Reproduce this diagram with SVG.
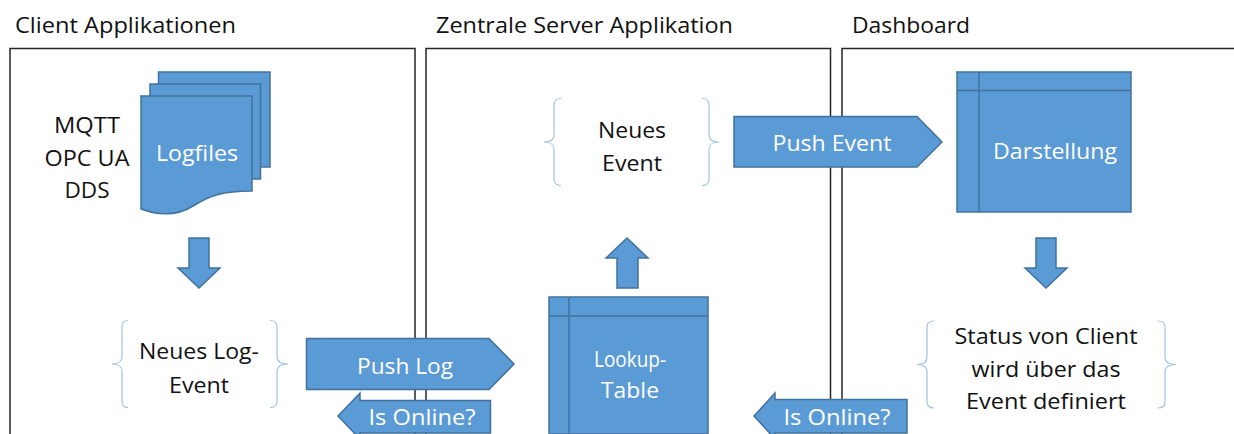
<svg xmlns="http://www.w3.org/2000/svg" width="1234" height="434" viewBox="0 0 1234 434">
<defs><style>
.panel{fill:none;stroke:#262626;stroke-width:1.5}
.s{fill:#5b9bd5;stroke:#41719c;stroke-width:1.5}
.l{fill:none;stroke:#41719c;stroke-width:1.5}
.b{fill:none;stroke:#9dc3e6;stroke-width:1.2}
text{font-family:"Open Sans","Liberation Sans",sans-serif;font-size:22.5px;fill:#111;text-anchor:middle;lengthAdjust:spacingAndGlyphs}
.w{fill:#fff}
.h{text-anchor:start}
</style></defs>
<rect width="1234" height="434" fill="#fff"/>
<g id="panels">
<path class="panel" d="M10 434V48.500H415V434"/>
<path class="panel" d="M426 434V48.500H830.500V434"/>
<path class="panel" d="M842 434V48.500H1234"/>
</g>
<g id="headers">
<text class="h" x="15" y="33" textLength="221" lengthAdjust="spacingAndGlyphs">Client Applikationen</text>
<text class="h" x="436" y="33" textLength="297" lengthAdjust="spacingAndGlyphs">Zentrale Server Applikation</text>
<text class="h" x="852" y="33" textLength="118" lengthAdjust="spacingAndGlyphs">Dashboard</text>
</g>
<g id="protocols">
<text x="87" y="133" textLength="66" lengthAdjust="spacingAndGlyphs">MQTT</text>
<text x="87" y="166" textLength="85" lengthAdjust="spacingAndGlyphs">OPC UA</text>
<text x="87" y="198" textLength="45" lengthAdjust="spacingAndGlyphs">DDS</text>
</g>
<g id="logfiles">
<rect class="s" x="158.500" y="72" width="111.500" height="95"/>
<rect class="s" x="150" y="84" width="110.500" height="95"/>
<path class="s" d="M141 96H252V191C222 191 209 196 193 206C177 216 160 216 141 209Z"/>
<text class="w" x="197" y="161" textLength="82" lengthAdjust="spacingAndGlyphs">Logfiles</text>
</g>
<g id="neues-log-event">
<path class="b" d="M128 320.500C124 320.500 122 323 122 327V356C122 361 120 364 112 364C120 364 122 367 122 372V401C122 405 124 407.500 128 407.500"/>
<path class="b" d="M270 320.500C274 320.500 277 323 277 327V356C277 361 280 364 288 364C280 364 277 367 277 372V401C277 405 274 407.500 270 407.500"/>
<text x="199" y="359" textLength="120" lengthAdjust="spacingAndGlyphs">Neues Log-</text>
<text x="199" y="393" textLength="60" lengthAdjust="spacingAndGlyphs">Event</text>
</g>
<g id="neues-event">
<path class="b" d="M561 98.500C557 98.500 554 101 554 105V135C554 139 552 142 544 142C552 142 554 145 554 150V179C554 183 557 185.500 561 185.500"/>
<path class="b" d="M702 98.500C706 98.500 709 101 709 105V135C709 139 711 142 719 142C711 142 709 145 709 150V179C709 183 706 185.500 702 185.500"/>
<text x="632" y="138" textLength="68" lengthAdjust="spacingAndGlyphs">Neues</text>
<text x="632" y="171" textLength="60" lengthAdjust="spacingAndGlyphs">Event</text>
</g>
<g id="darstellung">
<rect class="s" x="957" y="72" width="174" height="140"/>
<path class="l" d="M979 72V212M957 90.500H1131"/>
<text class="w" x="1055" y="159" textLength="124" lengthAdjust="spacingAndGlyphs">Darstellung</text>
</g>
<g id="status">
<path class="b" d="M934 321C930 321 927 323 927 327V357C927 361 925 364.500 917 364.500C925 364.500 927 368 927 372V402C927 406 930 408 934 408"/>
<path class="b" d="M1158 321C1162 321 1165 323 1165 327V357C1165 361 1168 364.500 1176 364.500C1168 364.500 1165 368 1165 372V402C1165 406 1162 408 1158 408"/>
<text x="1046" y="344" textLength="183" lengthAdjust="spacingAndGlyphs">Status von Client</text>
<text x="1046" y="377" textLength="149" lengthAdjust="spacingAndGlyphs">wird über das</text>
<text x="1046" y="409" textLength="160" lengthAdjust="spacingAndGlyphs">Event definiert</text>
</g>
<g id="lookup-table">
<path class="s" d="M549 434V297H708V434Z"/>
<path class="l" d="M569 297V434M549 316H708"/>
<text class="w" x="630" y="367" textLength="72" lengthAdjust="spacingAndGlyphs">Lookup-</text>
<text class="w" x="630" y="398" textLength="58" lengthAdjust="spacingAndGlyphs">Table</text>
</g>
<g id="connectors">
<path class="s" d="M189 238H209V268H220L199 288L178 268H189Z"/>
<path class="s" d="M617 288V258H606L627 238L648 258H638V288Z"/>
<path class="s" d="M1036 238H1056V268H1067L1046 288L1025 268H1036Z"/>
<g id="push-log"><path class="s" d="M306.500 338.500H489L514 364L489 389.500H306.500Z"/>
<text class="w" x="405" y="374" textLength="96" lengthAdjust="spacingAndGlyphs">Push Log</text></g>
<g id="push-event"><path class="s" d="M734 116.500H917L942 142L917 167H734Z"/>
<text class="w" x="832" y="151" textLength="119" lengthAdjust="spacingAndGlyphs">Push Event</text></g>
<g id="is-online-left"><path class="s" d="M490.500 400.500V433H360V439L338 416L360 393V400.500Z"/>
<text class="w" x="422" y="425" textLength="107" lengthAdjust="spacingAndGlyphs">Is Online?</text></g>
<g id="is-online-right"><path class="s" d="M907 399.500V433H775V439L754 416L775 393V399.500Z"/>
<text class="w" x="837" y="425" textLength="107" lengthAdjust="spacingAndGlyphs">Is Online?</text></g>
</g>
</svg>
